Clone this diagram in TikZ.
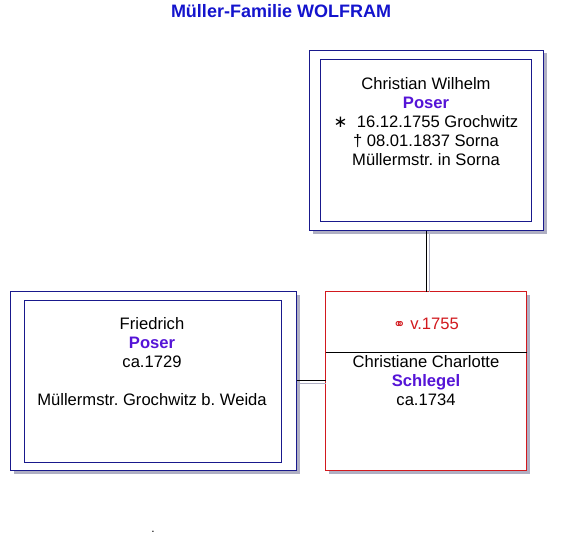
\documentclass[tikz,border=0pt]{standalone}
\usepackage{fontspec}
\setmainfont{Liberation Sans}
\newfontfamily\symbolfont{DejaVu Sans}
\usetikzlibrary{positioning}

\definecolor{framenavy}{RGB}{25,25,140}
\definecolor{framered}{RGB}{210,25,30}
\definecolor{namepurple}{RGB}{85,20,215}
\definecolor{titleblue}{RGB}{20,20,205}
\definecolor{shadowgray}{RGB}{175,175,195}

\newcommand{\famname}[1]{{\bfseries\color{namepurple}#1}}

\tikzset{
  personframe/.style={line width=1pt, fill=white, inner sep=0pt, outer sep=0pt,
    preaction={fill=shadowgray, draw=none, transform canvas={shift={(3pt,-3pt)}}},
    draw=#1},
  innerframe/.style={draw=framenavy, line width=1pt, inner sep=0pt},
  persontext/.style={align=center, inner sep=0pt, font=\fontsize{16.6}{19}\selectfont},
  vlink/.style={draw=black, line width=1pt,
    preaction={draw=shadowgray, line width=1pt, transform canvas={xshift=3pt}}},
  hlink/.style={draw=black, line width=1pt,
    preaction={draw=shadowgray, line width=1pt, transform canvas={yshift=-3pt}}}
}

\begin{document}
\begin{tikzpicture}[x=1pt, y=-1pt]
  \useasboundingbox (0,0) rectangle (562,551);

  % Title
  \node[font=\fontsize{18}{20}\selectfont\bfseries, text=titleblue, anchor=base] (title) at (281,18) {Müller-Familie WOLFRAM};

  % Father on top
  \node[personframe=framenavy, minimum width=234pt, minimum height=180pt] (wilhelm) at (426.5,140.5) {};
  \node[innerframe, minimum width=211pt, minimum height=162pt] (wilhelmIn) at (426,140.5) {};
  \node[persontext, anchor=north] (wilhelmTxt) at (426,77)
    {Christian Wilhelm\\ \famname{Poser}\\ {\symbolfont ∗}\ \ 16.12.1755 Grochwitz\\ †\ 08.01.1837 Sorna\\ Müllermstr.\ in Sorna};

  % Son on the left
  \node[personframe=framenavy, minimum width=286pt, minimum height=179pt] (friedrich) at (153.5,381) {};
  \node[innerframe, minimum width=257pt, minimum height=162pt] (friedrichIn) at (153,381.5) {};
  \node[persontext, anchor=north] (friedrichTxt) at (152,317)
    {Friedrich\\ \famname{Poser}\\ ca.1729\\[19pt] Müllermstr.\ Grochwitz b.\ Weida};

  % Wife on the right, with marriage field
  \node[personframe=framered, minimum width=201pt, minimum height=179pt] (schlegel) at (426,381) {};
  \draw[line width=1pt] ([yshift=-61pt]schlegel.north west) -- ([yshift=-61pt]schlegel.north east);
  \node[persontext, anchor=base, text=framered] (wedding) at (426,329)
    {{\symbolfont\fontsize{15}{15}\selectfont ⚭} v.1755};
  \node[persontext, anchor=north] (schlegelTxt) at (426,355)
    {Christiane Charlotte\\ \famname{Schlegel}\\ ca.1734};

  % Links
  \draw[vlink] (wilhelm.south) -- (wilhelm.south |- schlegel.north);
  \draw[hlink] ([yshift=0.5pt]friedrich.east) -- ([yshift=0.5pt]schlegel.west);

  % stray dot
  \node[inner sep=0pt, anchor=base, font=\fontsize{12}{12}\selectfont] (dot) at (153,532) {.};
\end{tikzpicture}
\end{document}
